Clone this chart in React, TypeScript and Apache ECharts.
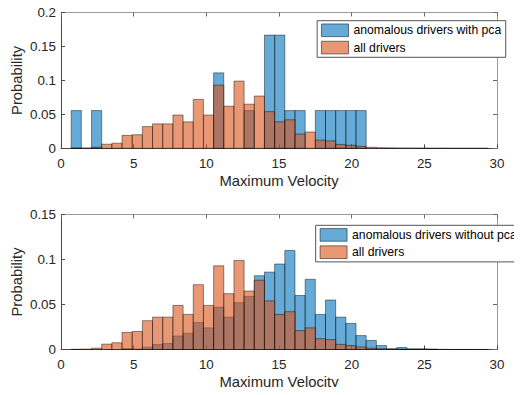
import React, { useEffect, useRef } from "react";
import * as echarts from "echarts";

// Histogram bin edges (left edge of each bin; last entry is right edge of last bin)
const binEdges = [
  0.7, 1.4, 2.1, 2.8, 3.5, 4.2, 4.9, 5.6, 6.3, 7.0, 7.7, 8.4, 9.1, 9.8, 10.5,
  11.2, 11.9, 12.6, 13.3, 14.0, 14.7, 15.4, 16.1, 16.8, 17.5, 18.2, 18.9, 19.6,
  20.3, 21.0, 21.7, 22.4, 23.1, 23.8, 24.5, 25.2, 25.9, 26.6, 27.3, 28.0, 28.7,
  29.4,
];

// Probabilities per bin
const allDrivers = [
  0.0003, 0.0005, 0.0015, 0.006, 0.0075, 0.019, 0.02, 0.032, 0.036, 0.036,
  0.049, 0.039, 0.072, 0.049, 0.093, 0.062, 0.099, 0.065, 0.077, 0.054, 0.039,
  0.042, 0.021, 0.024, 0.012, 0.011, 0.0057, 0.0044, 0.0028, 0.0015, 0.0008,
  0.0006, 0.0004, 0.0004, 0.0003, 0.0002, 0.0002, 0.0001, 0.0001, 0.0001,
  0.0001,
];

const anomalousWithPca = [
  0.0556, 0, 0.0556, 0, 0, 0, 0, 0, 0, 0, 0, 0, 0, 0, 0.1111, 0, 0, 0.0556, 0,
  0.1667, 0.1667, 0.0556, 0.0556, 0, 0.0556, 0.0556, 0.0556, 0.0556, 0.0556, 0,
  0, 0, 0, 0, 0, 0, 0, 0, 0, 0, 0,
];

const anomalousWithoutPca = [
  0, 0, 0, 0, 0, 0.001, 0.0005, 0.0026, 0.0055, 0.0066, 0.015, 0.018, 0.03,
  0.024, 0.047, 0.036, 0.052, 0.059, 0.082, 0.086, 0.095, 0.11, 0.06, 0.078,
  0.039, 0.055, 0.036, 0.029, 0.0155, 0.01, 0.0044, 0.0007, 0.0022, 0.0007,
  0.0007, 0.0004, 0, 0, 0, 0, 0,
];

const xTicks = [0, 5, 10, 15, 20, 25, 30];
const topYMax = 0.2;
const bottomYMax = 0.15;

const legendTop = ["anomalous drivers with pca", "all drivers"];
const legendBottom = ["anomalous drivers without pca", "all drivers"];

const BLUE_FILL = "rgba(0,114,189,0.6)";
const ORANGE_FILL = "rgba(217,83,25,0.6)";
const EDGE = "rgba(0,0,0,0.62)";
const TXT = "#262626";
const FONT = "Liberation Sans";

function toBins(values: number[]) {
  const out: number[][] = [];
  values.forEach((v, i) => {
    if (v > 0) out.push([binEdges[i], binEdges[i + 1], v]);
  });
  return out;
}

function histSeries(name: string, values: number[], fill: string, idx: number) {
  return {
    type: "custom",
    name,
    xAxisIndex: idx * 2,
    yAxisIndex: idx * 2,
    data: toBins(values),
    encode: { x: [0, 1], y: 2 },
    itemStyle: { color: fill, borderColor: EDGE, borderWidth: 0.7 },
    renderItem: (params: any, api: any) => {
      const p0 = api.coord([api.value(0), api.value(2)]);
      const p1 = api.coord([api.value(1), 0]);
      return {
        type: "rect",
        shape: { x: p0[0], y: p0[1], width: p1[0] - p0[0], height: p1[1] - p0[1] },
        style: { fill, stroke: EDGE, lineWidth: 0.7 },
      };
    },
  };
}

export default function App() {
  const ref = useRef<HTMLDivElement>(null);
  useEffect(() => {
    if (!ref.current) return;
    const chart = echarts.init(ref.current, undefined, { renderer: "svg" });
    const grids = [
      { left: 61, top: 12.5, width: 436, height: 135.8, outerBoundsMode: "none", containLabel: false },
      { left: 61, top: 214.5, width: 436, height: 135, outerBoundsMode: "none", containLabel: false },
    ];
    const xAxes: any[] = [];
    const yAxes: any[] = [];
    [topYMax, bottomYMax].forEach((ymax, g) => {
      xAxes.push({
        type: "value",
        gridIndex: g,
        min: xTicks[0],
        max: xTicks[xTicks.length - 1],
        interval: 5,
        position: "bottom",
        name: "Maximum Velocity",
        nameLocation: "middle",
        nameGap: 25,
        nameMoveOverlap: false,
        nameTextStyle: { color: TXT, fontSize: 14.8, fontFamily: FONT },
        axisLine: { show: true, onZero: false, lineStyle: { color: "#4a4a4a", width: 1 } },
        axisTick: { show: true, inside: true, length: 4, lineStyle: { color: "#4a4a4a" } },
        axisLabel: { color: TXT, fontSize: 13.4, fontFamily: FONT, margin: 8.5 },
        splitLine: { show: false },
      });
      xAxes.push({
        type: "value",
        gridIndex: g,
        min: xTicks[0],
        max: xTicks[xTicks.length - 1],
        interval: 5,
        position: "top",
        axisLine: { show: true, onZero: false, lineStyle: { color: "#9a9a9a", width: 1 } },
        axisTick: { show: true, inside: true, length: 4, lineStyle: { color: "#6a6a6a" } },
        axisLabel: { show: false },
        splitLine: { show: false },
      });
      yAxes.push({
        type: "value",
        gridIndex: g,
        min: 0,
        max: ymax,
        interval: 0.05,
        position: "left",
        name: "Probability",
        nameLocation: "middle",
        nameGap: 37,
        nameMoveOverlap: false,
        nameTextStyle: { color: TXT, fontSize: 14.8, fontFamily: FONT },
        axisLine: { show: true, onZero: false, lineStyle: { color: "#4a4a4a", width: 1 } },
        axisTick: { show: true, inside: true, length: 4, lineStyle: { color: "#4a4a4a" } },
        axisLabel: { color: TXT, fontSize: 13.4, fontFamily: FONT, margin: 5 },
        splitLine: { show: false },
      });
      yAxes.push({
        type: "value",
        gridIndex: g,
        min: 0,
        max: ymax,
        interval: 0.05,
        position: "right",
        axisLine: { show: true, onZero: false, lineStyle: { color: "#9a9a9a", width: 1 } },
        axisTick: { show: true, inside: true, length: 4, lineStyle: { color: "#6a6a6a" } },
        axisLabel: { show: false },
        splitLine: { show: false },
      });
    });

    const legendCommon = {
      orient: "vertical",
      icon: "rect",
      itemWidth: 27,
      itemHeight: 12.7,
      itemGap: 3.3,
      padding: [2.6, 4.5, 2.7, 4],
      borderColor: "#555",
      borderWidth: 1,
      backgroundColor: "#fff",
      selectedMode: false,
      textStyle: { color: "#000", fontSize: 12.2, fontFamily: FONT, lineHeight: 14 },
    };

    chart.setOption({
      animation: false,
      grid: grids,
      xAxis: xAxes,
      yAxis: yAxes,
      legend: [
        {
          ...legendCommon,
          right: 16.3,
          top: 20.7,
          data: [
            { name: legendTop[0], itemStyle: { color: BLUE_FILL, borderColor: EDGE, borderWidth: 0.8 } },
            { name: legendTop[1], itemStyle: { color: ORANGE_FILL, borderColor: EDGE, borderWidth: 0.8 } },
          ],
        },
        {
          ...legendCommon,
          right: 0.8,
          top: 225.3,
          data: [
            { name: legendBottom[0], itemStyle: { color: BLUE_FILL, borderColor: EDGE, borderWidth: 0.8 } },
            { name: legendBottom[1], itemStyle: { color: ORANGE_FILL, borderColor: EDGE, borderWidth: 0.8 } },
          ],
        },
      ],
      series: [
        histSeries(legendTop[0], anomalousWithPca, BLUE_FILL, 0),
        histSeries(legendTop[1], allDrivers, ORANGE_FILL, 0),
        histSeries(legendBottom[0], anomalousWithoutPca, BLUE_FILL, 1),
        histSeries(legendBottom[1], allDrivers, ORANGE_FILL, 1),
      ],
    });
    return () => chart.dispose();
  }, []);
  return <div ref={ref} style={{ width: 522, height: 395, margin: -8 }} />;
}
